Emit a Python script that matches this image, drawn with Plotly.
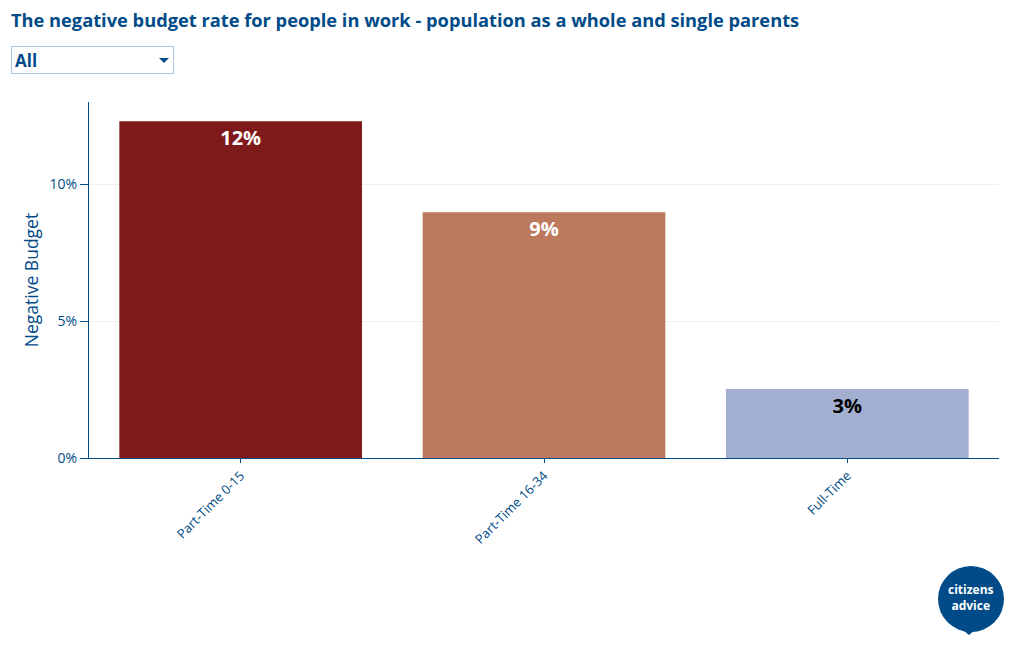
import plotly.graph_objects as go

categories = ["Part-Time 0-15", "Part-Time 16-34", "Full-Time"]
values = [0.123, 0.0897, 0.0252]
bar_colors = ["#7F1A1A", "#BD795D", "#A2AFD0"]
label_colors = ["white", "white", "black"]
title_text = "The negative budget rate for people in work - population as a whole and single parents"
selector_label = "All"

BLUE = "#004B88"

fig = go.Figure(
    go.Bar(
        x=categories,
        y=values,
        marker=dict(color=bar_colors, line=dict(width=0)),
        texttemplate="%{y:.0%}",
        textposition="inside",
        insidetextanchor="end",
        textangle=0,
        textfont=dict(family="Open Sans", size=20, color=label_colors, weight="bold"),
        hoverinfo="x+y",
    )
)

OFF = 8  # page offset of the figure in the screenshot
W, H = 1020, 650
# plot area in screenshot pixels
PX0, PX1, PY0, PY1 = 89, 999, 102, 458
L = PX0 - OFF
T = PY0 - OFF
R = W - (PX1 - OFF)
B = H - (PY1 - OFF)
pw, ph = PX1 - PX0, PY1 - PY0


def px(x):
    return (x - PX0) / pw


def py(y):
    return (PY1 - y) / ph


fig.update_layout(
    width=W,
    height=H,
    margin=dict(l=L, r=R, t=T, b=B, pad=0),
    paper_bgcolor="white",
    plot_bgcolor="white",
    font=dict(family="Open Sans", color=BLUE),
    bargap=0.2,
    showlegend=False,
    title=dict(
        text=title_text,
        x=(11 - OFF) / W,
        xanchor="left",
        y=1 - (21 - OFF) / H,
        yanchor="middle",
        font=dict(family="Open Sans", size=18.25, color=BLUE, weight="bold"),
    ),
    xaxis=dict(
        tickangle=-45,
        tickfont=dict(size=13, color=BLUE),
        showline=True,
        linecolor=BLUE,
        linewidth=1,
        ticks="outside",
        ticklen=4,
        tickcolor=BLUE,
        showgrid=False,
    ),
    yaxis=dict(
        range=[0, 0.13],
        tickformat=".0%",
        dtick=0.05,
        tickfont=dict(size=14, color=BLUE),
        showline=True,
        linecolor=BLUE,
        linewidth=1,
        ticks="outside",
        ticklen=8,
        tickcolor=BLUE,
        showgrid=True,
        gridcolor="#EEEEEE",
        zeroline=False,
        title=dict(text="Negative Budget", font=dict(size=17.5, color=BLUE), standoff=6),
    ),
    shapes=[
        # selector box
        dict(
            type="rect",
            xref="paper",
            yref="paper",
            x0=px(11.5),
            x1=px(173.5),
            y0=py(73.5),
            y1=py(46.5),
            fillcolor="white",
            line=dict(color="#A9C4DE", width=1),
            layer="above",
        ),
        dict(
            type="path",
            xref="paper",
            yref="paper",
            path=f"M {px(159)} {py(58)} L {px(169)} {py(58)} L {px(164)} {py(63)} Z",
            fillcolor=BLUE,
            line=dict(width=0),
        ),
        # logo
        dict(
            type="circle",
            xref="paper",
            yref="paper",
            x0=px(938),
            x1=px(1004),
            y0=py(632),
            y1=py(566),
            fillcolor=BLUE,
            line=dict(width=0),
        ),
        dict(
            type="path",
            xref="paper",
            yref="paper",
            path=f"M {px(958)} {py(626)} L {px(969)} {py(635)} L {px(976)} {py(629)} Z",
            fillcolor=BLUE,
            line=dict(width=0),
        ),
    ],
    annotations=[
        dict(
            text=selector_label,
            xref="paper",
            yref="paper",
            x=px(13),
            y=py(60),
            xanchor="left",
            yanchor="middle",
            showarrow=False,
            font=dict(family="Open Sans", size=17, color=BLUE, weight="bold"),
        ),
        dict(
            text="citizens<br>advice",
            xref="paper",
            yref="paper",
            x=px(971),
            y=py(597),
            xanchor="center",
            yanchor="middle",
            showarrow=False,
            font=dict(family="Open Sans", size=12, color="white", weight="bold"),
            align="center",
        ),
    ],
)

fig.write_html("out.html")
